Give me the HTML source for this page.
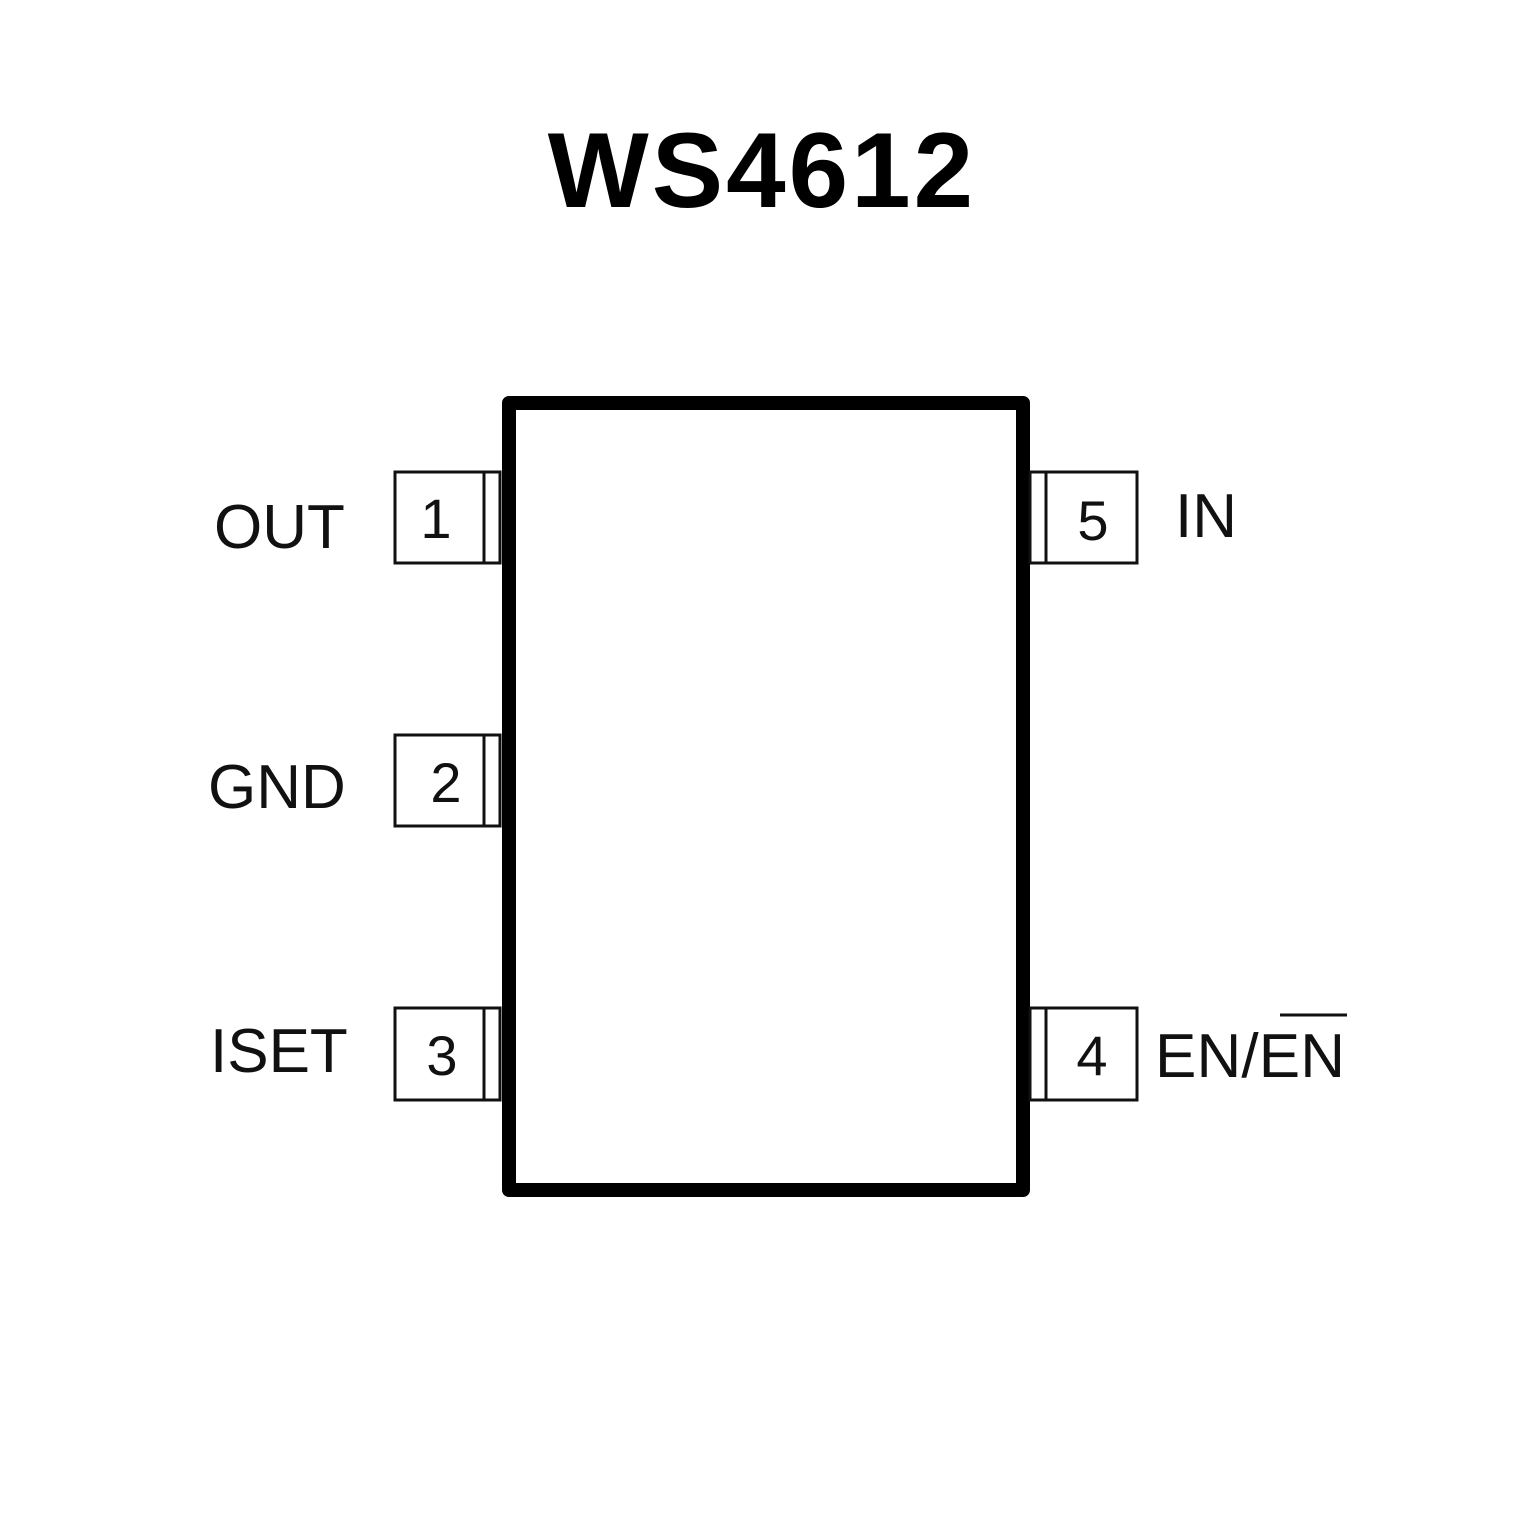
<!DOCTYPE html>
<html><head><meta charset="utf-8"><style>
html,body{margin:0;padding:0;background:#fff;}
svg{display:block}
</style></head><body>
<svg width="1535" height="1535" viewBox="0 0 1535 1535" xmlns="http://www.w3.org/2000/svg">
<rect width="1535" height="1535" fill="#fff"/>
<text x="762" y="207" text-anchor="middle" font-family="Liberation Sans, sans-serif" font-weight="bold" font-size="107" letter-spacing="3" fill="#000">WS4612</text>
<rect x="509" y="403" width="514" height="787" fill="none" stroke="#000" stroke-width="14" stroke-linejoin="round"/>
<g fill="none" stroke="#111" stroke-width="3">
<rect x="395" y="472" width="105" height="91"/><line x1="484" y1="472" x2="484" y2="563"/>
<rect x="395" y="735" width="105" height="91"/><line x1="484" y1="735" x2="484" y2="826"/>
<rect x="395" y="1008" width="105" height="92"/><line x1="484" y1="1008" x2="484" y2="1100"/>
<rect x="1030" y="472" width="107" height="91"/><line x1="1046" y1="472" x2="1046" y2="563"/>
<rect x="1030" y="1008" width="107" height="92"/><line x1="1046" y1="1008" x2="1046" y2="1100"/>
</g>
<g font-family="Liberation Sans, sans-serif" font-size="56" fill="#111" text-anchor="middle">
<text x="436" y="538">1</text>
<text x="446" y="802">2</text>
<text x="442" y="1075">3</text>
<text x="1093" y="540">5</text>
<text x="1092" y="1075">4</text>
</g>
<g font-family="Liberation Sans, sans-serif" font-size="62" fill="#111">
<text x="214" y="548">OUT</text>
<text x="208" y="808">GND</text>
<text x="210" y="1072">ISET</text>
<text x="1175" y="537">IN</text>
<text x="1155" y="1077" textLength="190">EN/EN</text>
</g>
<line x1="1280" y1="1015" x2="1347" y2="1015" stroke="#111" stroke-width="3"/>
</svg>
</body></html>
